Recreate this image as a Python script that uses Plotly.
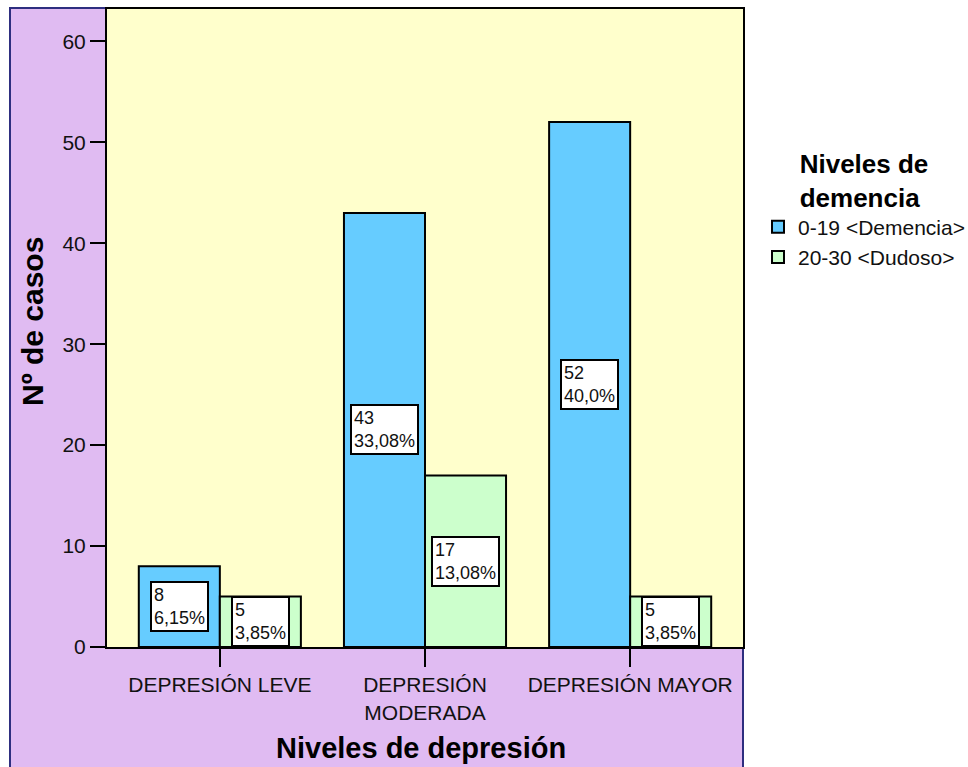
import plotly.graph_objects as go

# Casos por nivel de depresión y nivel de demencia
categorias = ["DEPRESIÓN LEVE", "DEPRESIÓN<br>MODERADA", "DEPRESIÓN MAYOR"]
demencia = [8, 43, 52]
dudoso = [5, 17, 5]
pct_demencia = ["6,15%", "33,08%", "40,0%"]
pct_dudoso = ["3,85%", "13,08%", "3,85%"]
serie_nombres = ["0-19 <Demencia>", "20-30 <Dudoso>"]
y_ticks = [0, 10, 20, 30, 40, 50, 60]

FONT = "Liberation Sans, Arial, sans-serif"
LAVANDA = "#E0BBF2"
AMARILLO = "#FFFFCC"
AZUL = "#66CCFF"
VERDE = "#CCFFCC"

W, H = 968, 767
ML, MR, MT, MB = 107, 225, 9, 120
pw, ph = W - ML - MR, H - MT - MB

fig = go.Figure()
fig.add_trace(go.Bar(x=categorias, y=demencia, name=serie_nombres[0],
                     marker=dict(color=AZUL, line=dict(color="black", width=2))))
fig.add_trace(go.Bar(x=categorias, y=dudoso, name=serie_nombres[1],
                     marker=dict(color=VERDE, line=dict(color="black", width=2))))

bargap = 0.21
half = (1 - bargap) / 4  # centro de cada barra dentro del grupo

annotations = []
for i in range(len(categorias)):
    for serie, pcts, off in ((demencia, pct_demencia, -half), (dudoso, pct_dudoso, half)):
        annotations.append(dict(
            x=i + off, y=serie[i] / 2, xref="x", yref="y",
            text=f"{serie[i]}<br>{pcts[i]}", showarrow=False, align="left",
            font=dict(family=FONT, size=18, color="#111111"),
            bgcolor="white", bordercolor="black", borderwidth=2, borderpad=2,
        ))

# Títulos de los ejes
annotations.append(dict(
    x=(33 - ML) / pw, y=(H - MB - 322) / ph, xref="paper", yref="paper",
    text="<b>Nº de casos</b>", textangle=-90, showarrow=False,
    font=dict(family=FONT, size=30, color="black"),
    xanchor="center", yanchor="middle",
))
annotations.append(dict(
    x=(421 - ML) / pw, y=(H - MB - 748) / ph, xref="paper", yref="paper",
    text="<b>Niveles de depresión</b>", showarrow=False,
    font=dict(family=FONT, size=29, color="black"),
    xanchor="center", yanchor="middle",
))

# Fondo lavanda del gráfico y fondo amarillo del área de trazado
shapes = [
    dict(type="rect", xref="paper", yref="paper", layer="below",
         x0=(10 - ML) / pw, x1=1.0, y0=(H - MB - 770) / ph, y1=(H - MB - 8) / ph,
         fillcolor=LAVANDA, line=dict(color="#2E2E80", width=2)),
    dict(type="rect", xref="paper", yref="paper", layer="below",
         x0=0, x1=1, y0=0, y1=1, fillcolor=AMARILLO, line=dict(width=0)),
]

fig.update_layout(
    width=W, height=H,
    margin=dict(l=ML, r=MR, t=MT, b=MB, autoexpand=False),
    paper_bgcolor="white", plot_bgcolor=AMARILLO,
    barmode="group", bargap=bargap, bargroupgap=0,
    font=dict(family=FONT, size=21, color="#111111"),
    annotations=annotations, shapes=shapes,
    legend=dict(
        x=(758 - ML) / pw, y=(H - MB - 139) / ph, xanchor="left", yanchor="top",
        title=dict(text="<b>Niveles de<br>demencia</b>", side="top center",
                   font=dict(family=FONT, size=26, color="black")),
        font=dict(family=FONT, size=21, color="#111111"),
        bgcolor="rgba(0,0,0,0)", traceorder="normal",
    ),
    xaxis=dict(
        type="category", range=[-0.55, 2.55],
        showline=True, linecolor="black", linewidth=2, mirror=True,
        ticks="outside", ticklen=18, tickwidth=2, tickcolor="black",
        tickfont=dict(family=FONT, size=21, color="#111111"),
        showgrid=False, zeroline=False,
    ),
    yaxis=dict(
        range=[0, 63.2], tickvals=y_ticks,
        showline=True, linecolor="black", linewidth=2, mirror=True,
        ticks="outside", ticklen=15, tickwidth=2, tickcolor="black",
        tickfont=dict(family=FONT, size=21, color="#111111"),
        showgrid=False, zeroline=False,
    ),
)

fig.write_html("out.html")
